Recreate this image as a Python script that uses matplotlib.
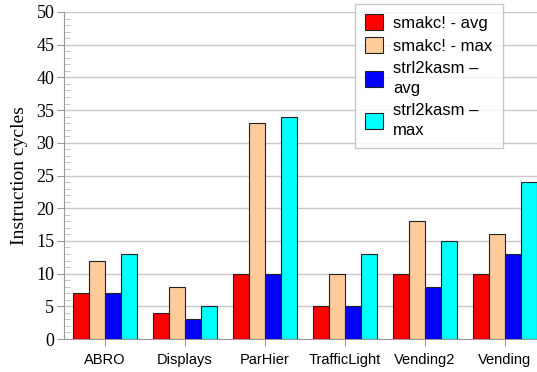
import matplotlib.pyplot as plt
import numpy as np
from matplotlib.ticker import MultipleLocator

benchmarks = ['ABRO', 'Displays', 'ParHier', 'TrafficLight', 'Vending2', 'Vending']
smakc_avg = [7, 4, 10, 5, 10, 10]
smakc_max = [12, 8, 33, 10, 18, 16]
strl_avg = [7, 3, 10, 5, 8, 13]
strl_max = [13, 5, 34, 13, 15, 24]
series_labels = ['smakc! - avg', 'smakc! - max', 'strl2kasm –\navg', 'strl2kasm –\nmax']
colors = ['#ff0000', '#ffcc99', '#0000ff', '#00ffff']

fig = plt.figure(figsize=(5.37, 3.72), dpi=100)
ax = fig.add_axes([64 / 537, 1 - 339 / 372, 1 - 64 / 537, (339 - 12) / 372])

x = np.arange(len(benchmarks))
w = 0.2
for i, (vals, col, lab) in enumerate(zip([smakc_avg, smakc_max, strl_avg, strl_max], colors, series_labels)):
    ax.bar(x + (i - 1.5) * w, vals, w, color=col, edgecolor='#222222', linewidth=0.8, label=lab, zorder=3)

ax.set_xlim(-0.51, 5.4)
ax.set_ylim(0, 50)
ax.yaxis.set_major_locator(MultipleLocator(5))
ax.yaxis.set_minor_locator(MultipleLocator(1))
ax.grid(axis='y', color='#c8c8c8', linewidth=1, zorder=0)
ax.set_axisbelow(True)

for s in ['top', 'right']:
    ax.spines[s].set_visible(False)
ax.spines['left'].set_color('#999999')
ax.spines['bottom'].set_color('#999999')
ax.tick_params(axis='y', which='major', length=5, color='#999999', labelsize=13, pad=2)
ax.tick_params(axis='y', which='minor', direction='in', length=4, color='#bbbbbb')
ax.tick_params(axis='x', length=5, color='#999999', labelsize=10.5, pad=5)
for t in ax.get_yticklabels():
    t.set_family('Liberation Serif')
ax.set_xticks(x)
ax.set_xticklabels(benchmarks, family='Liberation Sans')
ax.set_ylabel('Instruction cycles', family='Liberation Serif', fontsize=14, labelpad=6)

leg = ax.legend(loc='upper left', bbox_to_anchor=((355 - 64) / 473, (339 - 4) / 327), frameon=True,
                fancybox=False, edgecolor='#bbbbbb', prop={'family': 'Liberation Sans', 'size': 12},
                handlelength=1.1, handleheight=1.1, handletextpad=0.6, labelspacing=0.4,
                borderpad=0.6, borderaxespad=0)
leg.get_frame().set_linewidth(1)
for t in leg.get_texts():
    t.set_linespacing(1.45)

fig.savefig('out.png', dpi=100)
